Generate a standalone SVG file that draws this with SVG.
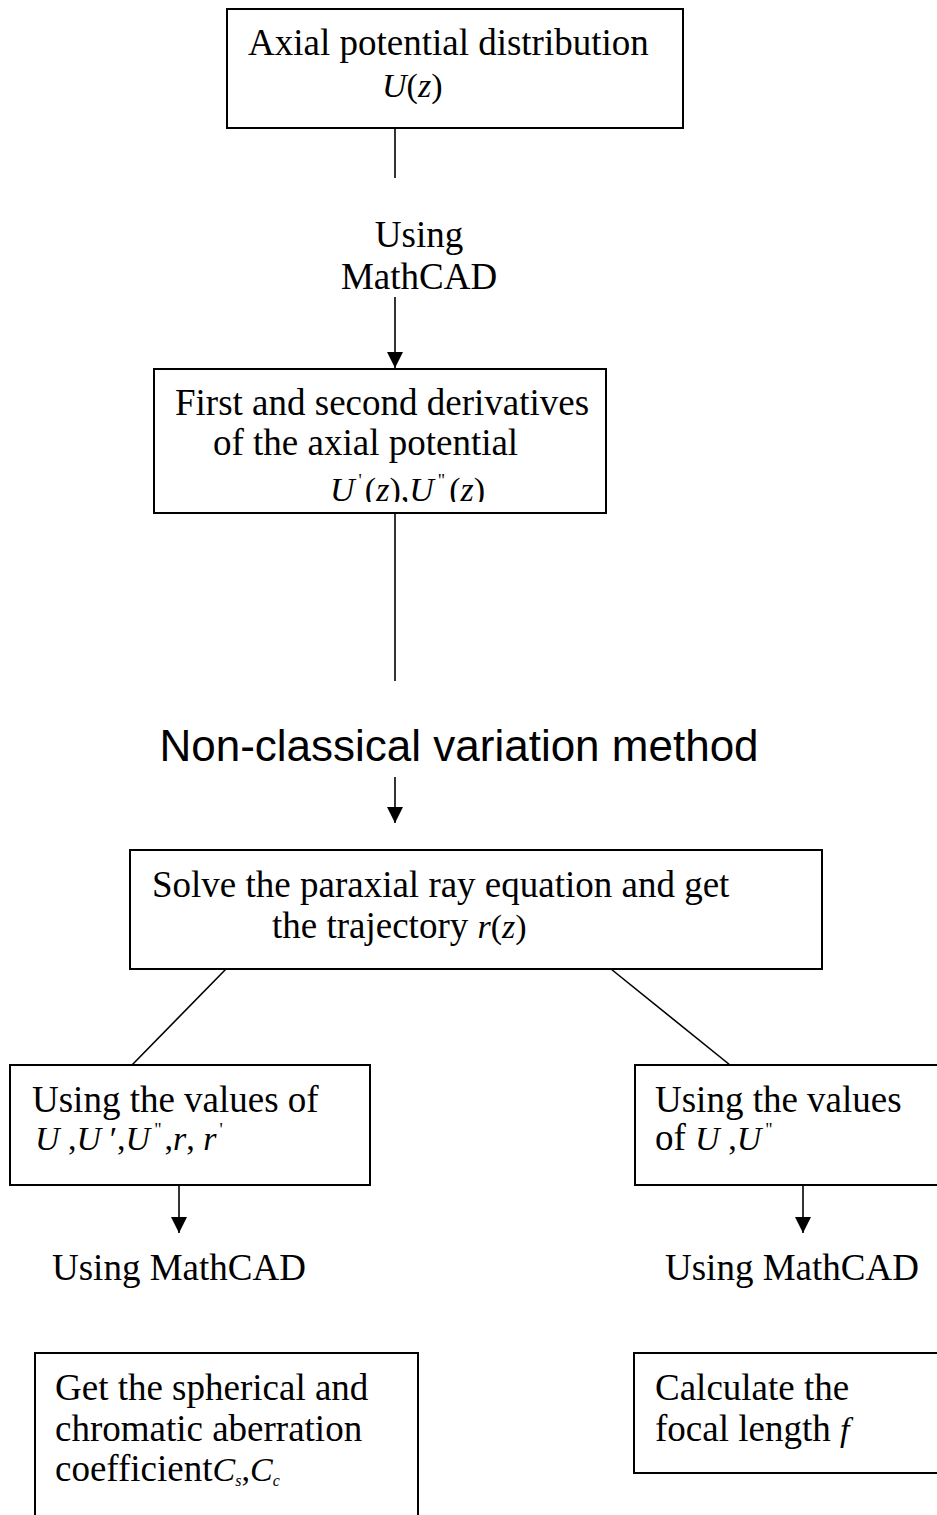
<svg xmlns="http://www.w3.org/2000/svg" width="937" height="1515" viewBox="0 0 937 1515">
<style>
.box{fill:#fff;stroke:#000;stroke-width:2}
.ln{stroke:#000;stroke-width:1.6;fill:none}
.t{font-family:"Liberation Serif","Times New Roman",serif;font-size:37px;fill:#000}
.m{font-family:"Liberation Serif","Times New Roman",serif;font-size:34px;fill:#000}
.i{font-style:italic}
.sup{font-size:18px}
.sans{font-family:"Liberation Sans",Arial,sans-serif;font-size:44px;fill:#000}
</style>
<defs>
<marker id="ah" markerUnits="userSpaceOnUse" markerWidth="16" markerHeight="16" refX="16" refY="8" orient="auto" viewBox="0 0 16 16">
<path d="M0,0 L16,8 L0,16 Z" fill="#000"/>
</marker>
<clipPath id="clip2"><rect x="154" y="369" width="452" height="133"/></clipPath>
</defs>
<rect width="937" height="1515" fill="#fff"/>
<g id="connectors">
<line class="ln" x1="395" y1="128" x2="395" y2="178"/>
<line class="ln" x1="395" y1="297" x2="395" y2="368" marker-end="url(#ah)"/>
<line class="ln" x1="395" y1="513" x2="395" y2="681"/>
<line class="ln" x1="395" y1="777" x2="395" y2="823" marker-end="url(#ah)"/>
<line class="ln" x1="226" y1="969" x2="132" y2="1065"/>
<line class="ln" x1="611" y1="969" x2="730" y2="1065"/>
<line class="ln" x1="179" y1="1185" x2="179" y2="1233" marker-end="url(#ah)"/>
<line class="ln" x1="803" y1="1185" x2="803" y2="1233" marker-end="url(#ah)"/>
</g>
<g id="n1">
<rect class="box" x="227" y="9" width="456" height="119"/>
<text class="t" x="248" y="55">Axial potential distribution</text>
<text class="m" x="382" y="97"><tspan class="i">U</tspan>(<tspan class="i">z</tspan>)</text>
</g>
<g id="n2">
<text class="t" x="419" y="247" text-anchor="middle">Using</text>
<text class="t" x="419" y="289" text-anchor="middle">MathCAD</text>
</g>
<g id="n3">
<rect class="box" x="154" y="369" width="452" height="144"/>
<text class="t" x="175" y="415">First and second derivatives</text>
<text class="t" x="213" y="455">of the axial potential</text>
<text class="m" x="330" y="501" clip-path="url(#clip2)"><tspan class="i">U</tspan><tspan class="sup" dx="4" dy="-14">'</tspan><tspan dy="14" dx="3">(</tspan><tspan class="i">z</tspan>),<tspan class="i">U</tspan><tspan class="sup" dx="4" dy="-14">"</tspan><tspan dy="14" dx="4">(</tspan><tspan class="i">z</tspan>)</text>
</g>
<g id="n4">
<text class="sans" x="459" y="761" text-anchor="middle">Non-classical variation method</text>
</g>
<g id="n5">
<rect class="box" x="130" y="850" width="692" height="119"/>
<text class="t" x="152" y="897">Solve the paraxial ray equation and get</text>
<text class="t" x="272" y="938">the trajectory <tspan class="m i">r</tspan><tspan class="m">(</tspan><tspan class="m i">z</tspan><tspan class="m">)</tspan></text>
</g>
<g id="n6">
<rect class="box" x="10" y="1065" width="360" height="120"/>
<text class="t" x="32" y="1112">Using the values of</text>
<text class="m" x="35" y="1150"><tspan class="i">U</tspan> ,<tspan class="i">U</tspan> ′,<tspan class="i">U</tspan><tspan class="sup" dx="4" dy="-14">"</tspan><tspan dy="14" dx="3">,</tspan><tspan class="i">r</tspan>, <tspan class="i">r</tspan><tspan class="sup" dx="3" dy="-14">'</tspan></text>
</g>
<g id="n7">
<rect class="box" x="635" y="1065" width="310" height="120"/>
<text class="t" x="655" y="1112">Using the values</text>
<text class="t" x="655" y="1150">of <tspan class="m i">U</tspan><tspan class="m"> ,</tspan><tspan class="m i">U</tspan><tspan class="sup" dx="4" dy="-14">"</tspan></text>
</g>
<g id="n8">
<text class="t" x="52" y="1280">Using MathCAD</text>
</g>
<g id="n9">
<text class="t" x="665" y="1280">Using MathCAD</text>
</g>
<g id="n10">
<rect class="box" x="35" y="1353" width="383" height="180"/>
<text class="t" x="55" y="1400">Get the spherical and</text>
<text class="t" x="55" y="1441">chromatic aberration</text>
<text class="t" x="55" y="1481">coefficient<tspan class="m i">C</tspan><tspan class="i" font-size="16" dy="5">s</tspan><tspan class="m" dy="-5">,</tspan><tspan class="m i">C</tspan><tspan class="i" font-size="16" dy="5">c</tspan></text>
</g>
<g id="n11">
<rect class="box" x="634" y="1353" width="310" height="120"/>
<text class="t" x="655" y="1400">Calculate the</text>
<text class="t" x="655" y="1441">focal length <tspan class="m i">f</tspan></text>
</g>
</svg>
